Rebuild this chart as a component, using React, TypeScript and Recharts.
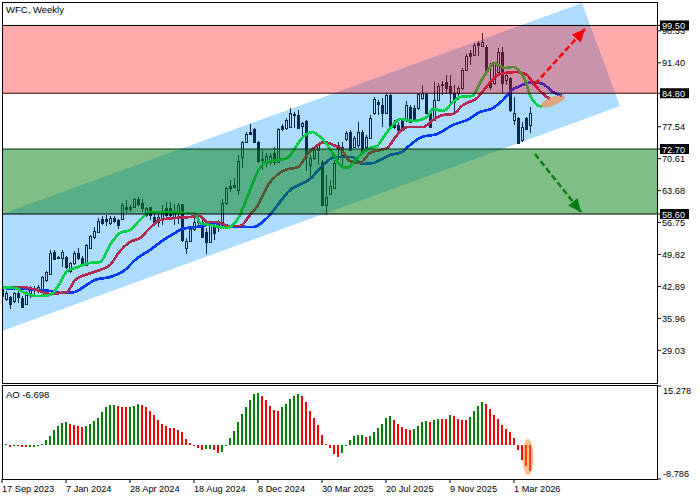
import {
  ComposedChart,
  Area,
  Bar,
  Cell,
  Line,
  XAxis,
  YAxis,
  ReferenceArea,
  ReferenceDot,
  ReferenceLine,
} from "recharts";

const FONT = "'Liberation Sans', sans-serif";

// weekly candles, one per bar index
const opens = [
  42.55, 40.17, 40.6, 39.73, 41.47, 40.38, 39.08, 41.03, 42.55, 42.12,
  42.34, 44.29, 45.59, 50.36, 49.28, 49.06, 49.28, 46.24, 47.98, 50.14,
  49.06, 47.54, 51.23, 53.62, 54.7, 57.52, 57.52, 56.65, 57.74, 57.3,
  57.52, 60.12, 60.12, 60.12, 61.86, 60.99, 58.39, 60.12, 57.95, 56.87,
  57.74, 59.91, 59.91, 57.95, 59.04, 60.77, 51.23, 52.75, 55.35, 57.3,
  56.87, 54.7, 52.53, 56.0, 55.78, 56.87, 60.99, 64.68, 64.89, 63.81,
  70.97, 74.22, 76.39, 77.04, 74.22, 70.53, 69.66, 69.88, 71.84, 69.88,
  77.69, 77.26, 77.47, 80.29, 80.08, 77.69, 78.78, 69.23, 70.75, 72.49,
  69.88, 60.56, 62.94, 64.24, 73.57, 71.4, 74.87, 76.39, 73.14, 73.57,
  76.39, 73.14, 75.09, 80.51, 82.9, 82.25, 80.51, 84.41, 78.56, 77.91,
  78.99, 78.99, 81.81, 81.59, 81.59, 83.76, 84.63, 80.51, 78.99, 83.33,
  86.8, 87.23, 86.37, 84.85, 84.85, 85.93, 89.84, 93.52, 93.09, 95.69,
  95.04, 94.83, 87.23, 87.02, 89.4, 93.74, 87.67, 88.1, 78.99, 79.43,
  74.65, 79.43, 77.91,
];
const closes = [
  40.82, 41.47, 39.08, 41.47, 40.6, 38.43, 41.03, 42.55, 42.12, 42.77,
  44.94, 46.02, 50.14, 48.84, 49.06, 50.36, 47.11, 47.98, 50.14, 49.06,
  47.54, 51.88, 53.83, 54.92, 57.09, 56.65, 57.09, 57.74, 57.09, 56.22,
  60.56, 59.69, 59.69, 61.86, 60.77, 59.91, 59.91, 58.39, 56.87, 57.95,
  58.82, 58.39, 58.39, 59.04, 60.56, 52.96, 52.75, 55.35, 56.87, 56.87,
  53.62, 52.53, 56.22, 54.48, 56.43, 60.99, 64.24, 64.24, 64.46, 70.1,
  74.22, 75.96, 75.96, 74.22, 70.1, 70.32, 71.18, 71.18, 69.88, 77.04,
  77.04, 78.99, 80.51, 80.08, 77.26, 78.34, 70.97, 70.75, 72.49, 73.57,
  60.56, 62.29, 64.68, 69.66, 72.7, 73.14, 76.17, 72.49, 75.09, 76.39,
  72.05, 75.31, 79.43, 83.55, 82.46, 80.51, 84.41, 77.47, 77.47, 76.82,
  76.82, 82.25, 78.56, 78.99, 84.63, 84.85, 80.51, 77.47, 83.33, 86.37,
  86.58, 85.93, 84.85, 82.9, 85.93, 89.84, 92.87, 92.87, 95.26, 95.26,
  95.91, 89.4, 86.15, 91.36, 93.74, 87.02, 88.75, 81.16, 80.51, 74.0,
  77.47, 77.04, 80.51,
];
const highs = [
  42.99, 41.9, 40.82, 41.69, 41.9, 40.82, 41.9, 42.99, 42.99, 43.21,
  45.16, 46.24, 50.8, 50.8, 49.49, 50.8, 49.49, 48.19, 50.58, 51.23,
  49.49, 52.1, 54.05, 55.78, 57.74, 58.17, 58.39, 58.17, 58.17, 57.52,
  60.99, 61.64, 60.56, 62.07, 62.29, 61.86, 60.12, 60.12, 59.04, 59.04,
  60.56, 61.21, 61.21, 60.77, 60.99, 60.77, 53.4, 56.0, 57.74, 58.39,
  57.74, 55.57, 56.43, 56.87, 57.3, 61.86, 64.46, 65.98, 66.41, 71.4,
  74.44, 76.39, 78.12, 77.26, 74.44, 72.49, 71.84, 71.84, 73.14, 77.26,
  78.12, 79.43, 81.59, 80.73, 81.16, 78.56, 78.99, 71.4, 72.92, 74.0,
  70.32, 67.06, 65.98, 70.32, 74.22, 74.22, 76.61, 76.82, 75.52, 78.56,
  76.82, 75.74, 80.08, 83.98, 83.33, 83.76, 84.63, 84.63, 78.99, 78.56,
  79.43, 83.11, 82.25, 82.25, 84.85, 86.58, 84.85, 81.16, 87.23, 87.02,
  87.45, 88.75, 88.75, 86.58, 86.37, 90.27, 93.31, 94.18, 95.69, 96.13,
  97.86, 95.26, 91.36, 91.57, 94.61, 94.83, 89.4, 88.32, 83.98, 79.64,
  78.56, 79.64, 81.81,
];
const lows = [
  40.38, 39.73, 38.0, 39.3, 39.3, 38.21, 38.87, 40.38, 40.82, 41.47,
  41.9, 43.85, 45.37, 48.63, 49.06, 47.11, 46.67, 45.81, 47.54, 48.63,
  47.11, 47.33, 51.01, 53.18, 54.48, 56.22, 56.0, 56.22, 56.65, 55.35,
  57.3, 58.82, 59.04, 59.91, 60.34, 59.04, 57.95, 57.3, 56.22, 55.78,
  56.22, 57.74, 57.3, 56.22, 56.43, 52.53, 49.93, 52.53, 54.92, 56.0,
  53.4, 49.93, 52.31, 52.96, 54.7, 56.43, 60.56, 63.38, 64.24, 62.73,
  68.58, 74.0, 75.74, 74.0, 69.66, 68.15, 68.8, 69.23, 69.23, 69.66,
  76.61, 76.82, 77.26, 77.26, 77.04, 75.09, 67.93, 66.41, 70.32, 69.23,
  60.34, 58.39, 62.73, 64.03, 70.32, 69.23, 74.44, 72.27, 72.92, 72.92,
  71.84, 72.92, 74.87, 80.08, 80.08, 77.47, 80.29, 77.26, 77.04, 76.39,
  76.61, 78.56, 78.34, 78.56, 81.16, 83.33, 80.29, 77.26, 78.78, 83.11,
  84.41, 84.63, 82.68, 80.73, 83.33, 85.5, 89.62, 90.92, 92.87, 92.87,
  94.83, 89.19, 85.5, 86.58, 88.97, 84.85, 86.58, 80.73, 77.91, 73.79,
  74.22, 76.82, 76.17,
];

const lipsIndex = [
  0, 3.25, 5.75, 8.75, 12, 14.5, 16.25, 18.25, 22, 24.5, 27, 29.5, 32, 34.5, 37, 40.75, 46.5, 48.25, 49.5, 52,
  56.25, 57.75, 59.5, 60.75, 62.5, 63.75, 65.25, 67, 70.75, 72.5, 73.75, 75.25, 77.75, 79, 80.75, 82.5, 84.5, 86.25, 87.75, 89.5,
  92, 93.75, 95.75, 97.75, 99.5, 102.75, 106.25, 107.75, 110.25, 112.5, 114.5, 117.5, 119.5, 121.5, 123, 124.5, 125.75, 127.75, 129.5, 130.75,
  132, 133.25, 135,
];
const lipsValues = [
  42.66, 42.55, 41.47, 40.82, 41.03, 43.64, 46.24, 46.89, 47.98, 48.19, 51.88, 54.48, 55.13, 57.3, 59.04, 59.04, 58.82, 58.82, 56.65, 56.22,
  55.57, 56.22, 58.39, 60.99, 64.89, 67.5, 69.45, 70.1, 70.53, 71.84, 73.57, 75.31, 76.39, 75.74, 74.22, 72.05, 69.23, 68.58, 69.66, 71.4,
  72.92, 73.35, 75.74, 77.91, 79.21, 78.78, 79.64, 81.38, 80.94, 82.68, 83.98, 84.2, 87.02, 89.84, 91.36, 90.7, 90.27, 90.49, 89.4, 87.67,
  84.41, 82.68, 81.81,
];
const teethIndex = [
  0, 4.5, 8.75, 12, 14.5, 16.25, 18.25, 20.75, 24.5, 27, 29.5, 32, 34.5, 37, 39.5, 43.25, 47, 49.5, 51.25, 53.75,
  56.5, 59.5, 62, 64, 66.5, 68.75, 70.75, 74, 76.25, 78.25, 80.75, 82.75, 84.5, 87, 89.5, 92, 96.25, 98.75, 101.25, 105.25,
  107.75, 110.25, 112.75, 115.25, 118.75, 121.5, 124.5, 128.75, 131.25, 132.75, 135, 137,
];
const teethValues = [
  42.77, 42.77, 42.12, 41.25, 41.47, 41.69, 44.29, 45.37, 46.46, 47.54, 50.58, 52.53, 53.4, 55.57, 57.3, 57.74, 57.95, 58.17, 56.87, 56.87,
  56.0, 56.0, 58.39, 60.56, 64.89, 67.06, 68.15, 68.8, 71.4, 73.14, 74.22, 73.57, 72.92, 70.1, 69.66, 71.84, 72.92, 75.74, 77.47, 77.47,
  78.99, 80.08, 80.29, 82.25, 83.76, 86.58, 88.97, 89.4, 88.75, 87.02, 84.85, 83.55,
];
const jawIndex = [
  0, 12, 15, 18.25, 20.75, 23.25, 27, 30.75, 33.25, 37, 40.75, 43.25, 45, 50.25, 53.25, 56.75, 62.75, 66.5, 69.5, 71.5,
  75.25, 77, 80.25, 83.25, 87.5, 90, 92.75, 97, 100, 102, 105, 108.75, 112.75, 116.25, 119.5, 122.75, 125.25, 127.5, 129.5, 132.75,
  135.25, 137.75, 140,
];
const jawValues = [
  42.55, 41.9, 41.47, 41.69, 42.99, 44.29, 44.94, 46.46, 48.63, 50.8, 53.18, 54.48, 55.35, 56.0, 56.65, 56.0, 55.78, 57.95, 61.21, 63.38,
  65.33, 66.2, 69.23, 70.97, 70.97, 69.45, 69.66, 71.4, 72.05, 73.57, 75.31, 75.96, 77.91, 78.99, 80.73, 81.59, 83.33, 85.5, 86.37, 87.23,
  86.8, 85.07, 84.2,
];

// rising channel polygon
const channelIndex = [0, 145, 154.5];
const channelUpper = [58.6, 104.37, 82.03];
const channelLower = [33.23, 78.99, 82.03];

// forecast arrows
const upArrowIndex = [133.25, 145.75];
const upArrowValues = [86.8, 98.75];
const downArrowIndex = [133.25, 144.75];
const downArrowValues = [71.6, 59.04];

// awesome oscillator, first bar has no value
const aoValues = [
  null, 0.26, -0.43, -0.26, -0.35, -0.6, -0.62, -0.4, -0.38, -0.26,
  0.26, 1.29, 2.33, 3.88, 4.92, 5.61, 5.95, 5.44, 5.18, 4.92,
  4.75, 4.8, 5.44, 6.21, 7.08, 8.63, 9.84, 10.3, 10.38, 10.18,
  9.88, 9.8, 9.84, 10.09, 10.61, 10.35, 9.75, 8.8, 7.77, 6.47,
  5.44, 5.01, 4.4, 4.31, 3.88, 3.37, 1.55, 0.52, -0.26, -0.69,
  -1.29, -1.04, -1.0, -1.29, -1.98, -1.9, -0.26, 1.81, 3.63, 5.96,
  8.02, 9.84, 11.65, 13.2, 13.46, 12.69, 11.65, 10.09, 9.06, 8.8,
  9.84, 10.61, 11.91, 12.69, 13.2, 12.69, 11.13, 8.8, 7.08, 5.18,
  2.59, 0.26, -0.86, -2.24, -3.02, -1.98, -0.26, 1.29, 2.33, 2.59,
  2.62, 2.16, 2.33, 3.37, 4.4, 5.44, 6.99, 7.51, 6.47, 5.44,
  4.66, 4.14, 3.88, 4.14, 4.92, 5.96, 6.21, 5.96, 6.47, 6.76,
  6.73, 6.71, 7.77, 7.51, 6.73, 6.47, 6.45, 7.25, 8.8, 10.09,
  11.13, 10.61, 9.32, 7.77, 6.73, 5.18, 4.14, 3.37, 1.81, -1.29,
  -3.88, -5.44, -6.7,
];

const priceTicks = [98.33, 91.4, 77.54, 70.61, 63.68, 56.75, 49.82, 42.89, 35.96, 29.03];
const tagLevels = [99.5, 84.8, 72.7, 58.6];
const dateTicks = [0, 16, 32, 48, 64, 80, 96, 112, 128];
const dateLabels = [
  "17 Sep 2023", "7 Jan 2024", "28 Apr 2024", "18 Aug 2024", "8 Dec 2024",
  "30 Mar 2025", "20 Jul 2025", "9 Nov 2025", "1 Mar 2026",
];

const candleData = opens.map((o, i) => ({
  i,
  open: o,
  close: closes[i],
  high: highs[i],
  low: lows[i],
  range: [lows[i], highs[i]],
}));
const aoData = aoValues.map((v, i) => ({ i, ao: v }));
const toPoints = (xs: number[], ys: number[]) => xs.map((x, i) => ({ i: x, v: ys[i] }));
const channelData = channelIndex.map((x, i) => ({ i: x, band: [channelLower[i], channelUpper[i]] }));

const NAVY = "#06294f";
const TICK_SIZE = 9.2;
const MA_WIDTH = 2.7;

function Candle(props: any) {
  const { x, y, width, height, payload } = props;
  const k = height / (payload.high - payload.low || 1);
  const yOpen = y + (payload.high - payload.open) * k;
  const yClose = y + (payload.high - payload.close) * k;
  const cx = Math.round(x + width / 2) + 0.5;
  const up = payload.close >= payload.open;
  const top = Math.round(Math.min(yOpen, yClose)) + 0.5;
  const bottom = Math.round(Math.max(yOpen, yClose)) + 0.5;
  return (
    <g shapeRendering="crispEdges">
      <line x1={cx} x2={cx} y1={Math.round(y)} y2={top} stroke={NAVY} />
      <line x1={cx} x2={cx} y1={bottom} y2={Math.round(y + height)} stroke={NAVY} />
      <rect
        x={cx - 1}
        y={top}
        width={2}
        height={Math.max(bottom - top, 0.5)}
        fill={up ? "none" : NAVY}
        stroke={NAVY}
      />
    </g>
  );
}

function PriceTick(props: any) {
  const { x, y, payload } = props;
  if (tagLevels.includes(payload.value)) {
    return (
      <g>
        <rect x={660} y={y - 5} width={29} height={10} fill="#000" />
        <text x={662} y={y + 3.5} fontSize={TICK_SIZE} fontFamily={FONT} fill="#fff">
          {payload.value.toFixed(2)}
        </text>
      </g>
    );
  }
  return (
    <text x={x} y={y + 3.5} fontSize={TICK_SIZE} fontFamily={FONT} fill="#000">
      {payload.value.toFixed(2)}
    </text>
  );
}

function AoScaleTick(props: any) {
  const { y, payload } = props;
  const shift = payload.value > 0 ? 8 : -2;
  return (
    <text x={663} y={y + shift} fontSize={TICK_SIZE} fontFamily={FONT} fill="#000">
      {payload.value.toFixed(3)}
    </text>
  );
}

function DateTick(props: any) {
  const { x, y, payload } = props;
  return (
    <text x={x} y={y + 9} fontSize={TICK_SIZE} fontFamily={FONT} fill="#000">
      {dateLabels[dateTicks.indexOf(payload.value)]}
    </text>
  );
}

// arrow head on the end point of a dashed line
const arrowHead = (color: string, angle: number) => (props: any) => {
  const { cx, cy, index } = props;
  if (index !== 1) return <g key={index} />;
  return (
    <polygon
      key={index}
      points="0,0 -13,-6 -13,6"
      fill={color}
      transform={`translate(${cx} ${cy}) rotate(${angle})`}
    />
  );
};

const ellipseShape = (rx: number, ry: number, angle: number, opacity: number) => (props: any) => (
  <ellipse
    cx={props.cx}
    cy={props.cy}
    rx={rx}
    ry={ry}
    fill="#ff8020"
    fillOpacity={opacity}
    transform={`rotate(${angle} ${props.cx} ${props.cy})`}
  />
);

export default function App() {
  return (
    <div style={{ position: "absolute", left: 0, top: 0, width: 700, height: 500, background: "#fff", overflow: "hidden" }}>
      {/* price pane */}
      <div style={{ position: "absolute", left: 0, top: 0 }}>
        <ComposedChart
          width={700}
          height={384}
          data={candleData}
          margin={{ top: 2, right: 0, bottom: 1, left: 2 }}
        >
          <XAxis type="number" dataKey="i" domain={[0, 163.75]} allowDataOverflow hide />
          <YAxis
            orientation="right"
            width={43}
            type="number"
            domain={[21.95, 104.59]}
            allowDataOverflow
            ticks={[...priceTicks, ...tagLevels]}
            interval={0}
            tick={<PriceTick />}
            tickSize={4}
            tickMargin={1}
            axisLine={false}
            tickLine={{ stroke: "#000" }}
          />
          <Area
            data={channelData}
            dataKey="band"
            type="linear"
            stroke="none"
            fill="#aedcff"
            fillOpacity={1}
            dot={false}
            activeDot={false}
            isAnimationActive={false}
          />
          <Bar dataKey="range" barSize={4} shape={<Candle />} isAnimationActive={false} />
          <Line data={toPoints(jawIndex, jawValues)} dataKey="v" type="monotone" stroke="#0038ff" strokeWidth={MA_WIDTH} shapeRendering="crispEdges" dot={false} activeDot={false} isAnimationActive={false} />
          <Line data={toPoints(teethIndex, teethValues)} dataKey="v" type="monotone" stroke="#b02c50" strokeWidth={MA_WIDTH} shapeRendering="crispEdges" dot={false} activeDot={false} isAnimationActive={false} />
          <Line data={toPoints(lipsIndex, lipsValues)} dataKey="v" type="monotone" stroke="#00d048" strokeWidth={MA_WIDTH} shapeRendering="crispEdges" dot={false} activeDot={false} isAnimationActive={false} />
          <ReferenceArea y1={84.8} y2={99.5} fill="#ff0000" fillOpacity={0.33} stroke="none" zIndex={700} />
          <ReferenceArea y1={58.6} y2={72.7} fill="#008010" fillOpacity={0.5} stroke="none" zIndex={700} />
          <ReferenceLine y={99.5} stroke="#000" zIndex={710} />
          <ReferenceLine y={84.8} stroke="#3c0000" zIndex={710} />
          <ReferenceLine y={72.7} stroke="#003308" zIndex={710} />
          <ReferenceLine y={58.6} stroke="#000" zIndex={710} />
          <ReferenceDot x={137.75} y={83.1} shape={ellipseShape(13, 4.5, -22, 0.58)} zIndex={720} />
          <Line
            data={toPoints(upArrowIndex, upArrowValues)}
            dataKey="v"
            type="linear"
            stroke="#ff0000"
            strokeWidth={2.5}
            strokeDasharray="6 3"
            dot={arrowHead("#ff0000", -48)}
            activeDot={false}
            isAnimationActive={false}
            zIndex={730}
          />
          <Line
            data={toPoints(downArrowIndex, downArrowValues)}
            dataKey="v"
            type="linear"
            stroke="#0a7a14"
            strokeWidth={2.5}
            strokeDasharray="6 3"
            dot={arrowHead("#0a7a14", 51)}
            activeDot={false}
            isAnimationActive={false}
            zIndex={730}
          />
        </ComposedChart>
      </div>

      {/* oscillator pane */}
      <div style={{ position: "absolute", left: 0, top: 385 }}>
        <ComposedChart
          width={700}
          height={115}
          data={aoData}
          margin={{ top: 1, right: 0, bottom: 0, left: 2 }}
        >
          <XAxis
            type="number"
            dataKey="i"
            domain={[0, 163.75]}
            allowDataOverflow
            height={21}
            ticks={dateTicks}
            interval={0}
            tick={<DateTick />}
            tickSize={4}
            tickMargin={0}
            axisLine={false}
            tickLine={{ stroke: "#000" }}
          />
          <YAxis
            orientation="right"
            width={43}
            type="number"
            domain={[-8.786, 15.278]}
            allowDataOverflow
            ticks={[15.278, -8.786]}
            interval={0}
            tick={<AoScaleTick />}
            tickSize={4}
            axisLine={false}
            tickLine={{ stroke: "#000" }}
          />
          <Bar dataKey="ao" barSize={2} shapeRendering="crispEdges" isAnimationActive={false}>
            {aoData.map((d, i) => {
              const prev = i > 1 ? aoValues[i - 1] : null;
              const rising = prev == null || (d.ao as number) > prev;
              return <Cell key={i} fill={rising ? "#008000" : "#ff0000"} />;
            })}
          </Bar>
          <ReferenceDot x={131.5} y={-3.1} shape={ellipseShape(5.5, 18, 0, 0.5)} zIndex={700} />
        </ComposedChart>
      </div>

      {/* pane frames and captions */}
      <div style={{ position: "absolute", left: 2, top: 2, width: 656, height: 382, boxSizing: "border-box", border: "1px solid #000", pointerEvents: "none" }} />
      <div style={{ position: "absolute", left: 2, top: 385, width: 656, height: 95, boxSizing: "border-box", border: "1px solid #000", pointerEvents: "none" }} />
      <div style={{ position: "absolute", left: 6, top: 3, font: `9.5px ${FONT}`, color: "#000", lineHeight: "14px" }}>WFC, Weekly</div>
      <div style={{ position: "absolute", left: 6, top: 388, font: `9.5px ${FONT}`, color: "#000", lineHeight: "14px" }}>AO -6.698</div>
    </div>
  );
}
